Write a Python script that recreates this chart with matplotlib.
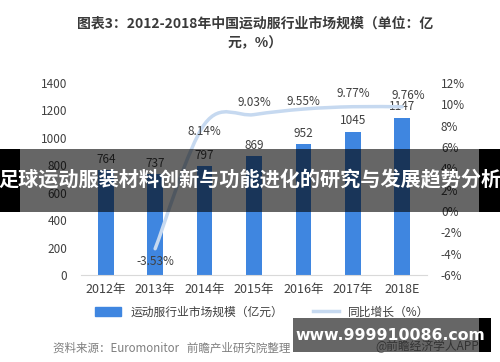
import matplotlib
matplotlib.use("Agg")
import matplotlib.pyplot as plt
from matplotlib.patches import Rectangle, PathPatch
from matplotlib.path import Path
from matplotlib.lines import Line2D
import numpy as np

plt.rcParams["font.family"] = ["Noto Sans CJK SC", "DejaVu Sans"]

# ---------------------------------------------------------------------------
# Data
# ---------------------------------------------------------------------------
years = ["2012年", "2013年", "2014年", "2015年", "2016年", "2017年", "2018E"]
market_size = [764, 737, 797, 869, 952, 1045, 1147]
growth_years = ["2013年", "2014年", "2015年", "2016年", "2017年", "2018E"]
growth_pct = [-3.53, 8.14, 9.03, 9.55, 9.77, 9.76]
# label offsets (pixels) for growth labels
growth_label_dx = [0, 0, 0, 0, 0, 6]
growth_label_dy = [-13, -7, 12, 8, 13, 11]

BAR_COLOR = "#3f86e0"
LINE_COLOR = "#c6d9f0"
TEXT_COLOR = "#404040"

fig = plt.figure(figsize=(5.0, 3.62), dpi=100)
ax = fig.add_axes([0.162, 0.240, 0.692, 0.531])
ax2 = ax.twinx()

x = np.arange(len(years))
ax.bar(x, market_size, width=0.32, color=BAR_COLOR, zorder=2)
ax.set_xlim(-0.5, len(years) - 0.5)
ax.set_ylim(0, 1400)
ax.set_yticks(range(0, 1401, 200))
ax.set_xticks(x)
ax.set_xticklabels(years, fontsize=9, color=TEXT_COLOR)
ax.tick_params(axis="both", length=0, labelsize=8.5, labelcolor=TEXT_COLOR)
ax.tick_params(axis="x", pad=6, labelsize=9)
ax.tick_params(axis="y", pad=10)
for s in ["top", "right", "left"]:
    ax.spines[s].set_visible(False)
ax.spines["bottom"].set_color("#d9d9d9")

for xi, v in zip(x, market_size):
    ax.annotate(str(v), (xi, v), xytext=(0, 3), textcoords="offset points",
                ha="center", va="bottom", fontsize=8.5, color=TEXT_COLOR)

# growth line on secondary axis, smoothed like an Excel line
ax2.set_ylim(-6, 12)
ax2.set_yticks(range(-6, 13, 2))
ax2.set_yticklabels([f"{t}%" for t in range(-6, 13, 2)])
ax2.tick_params(axis="y", length=0, labelsize=8.5, labelcolor=TEXT_COLOR, pad=10)
for s in ["top", "right", "left", "bottom"]:
    ax2.spines[s].set_visible(False)

gx = np.array([years.index(y) for y in growth_years], dtype=float)
gy = np.array(growth_pct, dtype=float)
pts = np.column_stack([gx, gy])
verts = [pts[0]]
codes = [Path.MOVETO]
n = len(pts)
for i in range(n - 1):
    p0 = pts[max(i - 1, 0)]
    p1 = pts[i]
    p2 = pts[i + 1]
    p3 = pts[min(i + 2, n - 1)]
    c1 = p1 + (p2 - p0) / 6.0
    c2 = p2 - (p3 - p1) / 6.0
    verts += [c1, c2, p2]
    codes += [Path.CURVE4] * 3
ax2.add_patch(PathPatch(Path(verts, codes), facecolor="none",
                        edgecolor=LINE_COLOR, lw=2.5, zorder=3,
                        capstyle="round"))

for xi, v, dx, dy in zip(gx, gy, growth_label_dx, growth_label_dy):
    ax2.annotate(f"{v:.2f}%", (xi, v), xytext=(dx * 0.72, dy * 0.72),
                 textcoords="offset points", ha="center", va="center",
                 fontsize=8.5, color=TEXT_COLOR)

# legend
handles = [Rectangle((0, 0), 1, 1, color=BAR_COLOR),
           Line2D([0], [0], color=LINE_COLOR, lw=2.5)]
fig.legend(handles, ["运动服行业市场规模（亿元）", "同比增长（%）"],
           loc="center", bbox_to_anchor=(0.525, 0.138), ncol=2, frameon=False,
           fontsize=8.5, labelcolor=TEXT_COLOR, handlelength=2.2,
           handleheight=0.7, columnspacing=2.5)

# title
fig.text(0.51, 0.935, "图表3：2012-2018年中国运动服行业市场规模（单位：亿",
         ha="center", va="center", fontsize=10, fontweight="bold", color="#3a3a3a")
fig.text(0.51, 0.880, "元，%）", ha="center", va="center", fontsize=10,
         fontweight="bold", color="#3a3a3a")

# footer
fig.text(0.106, 0.039, "资料来源：Euromonitor   前瞻产业研究院整理", ha="left",
         va="center", fontsize=8.3, style="italic", color="#7f7f7f")
fig.text(0.75, 0.042, "@前瞻经济学人APP", ha="left", va="center",
         fontsize=8.5, color="#7f7f7f")

# dark banner overlay
b0, b1 = (362 - 212) / 362, (362 - 149) / 362
fig.patches.append(Rectangle((0, b0), 0.04, b1 - b0, transform=fig.transFigure,
                             facecolor="black", edgecolor="none", zorder=10))
fig.patches.append(Rectangle((0.04, b0), 0.918, b1 - b0, transform=fig.transFigure,
                             facecolor="black", alpha=0.6, edgecolor="none", zorder=10))
fig.patches.append(Rectangle((0.958, b0), 0.042, b1 - b0, transform=fig.transFigure,
                             facecolor="black", edgecolor="none", zorder=10))
fig.text(0.5, (362 - 180) / 362, "足球运动服装材料创新与功能进化的研究与发展趋势分析",
         ha="center", va="center", fontsize=14.5, fontweight="bold",
         color="white", zorder=11)

# url box
u0, u1 = (362 - 352) / 362, (362 - 318) / 362
fig.patches.append(Rectangle((293 / 500, u0), (479 - 293) / 500, u1 - u0,
                             transform=fig.transFigure, facecolor="black",
                             alpha=0.6, edgecolor="none", zorder=10))
fig.patches.append(Rectangle((479 / 500, u0), 12 / 500, u1 - u0,
                             transform=fig.transFigure, facecolor="black",
                             edgecolor="none", zorder=10))
fig.text(390 / 500, (362 - 335) / 362, "www.999910086.com", ha="center",
         va="center", fontsize=11.3, fontweight="bold", color="white",
         family="DejaVu Sans", zorder=11)

fig.savefig("out.png", dpi=100)
